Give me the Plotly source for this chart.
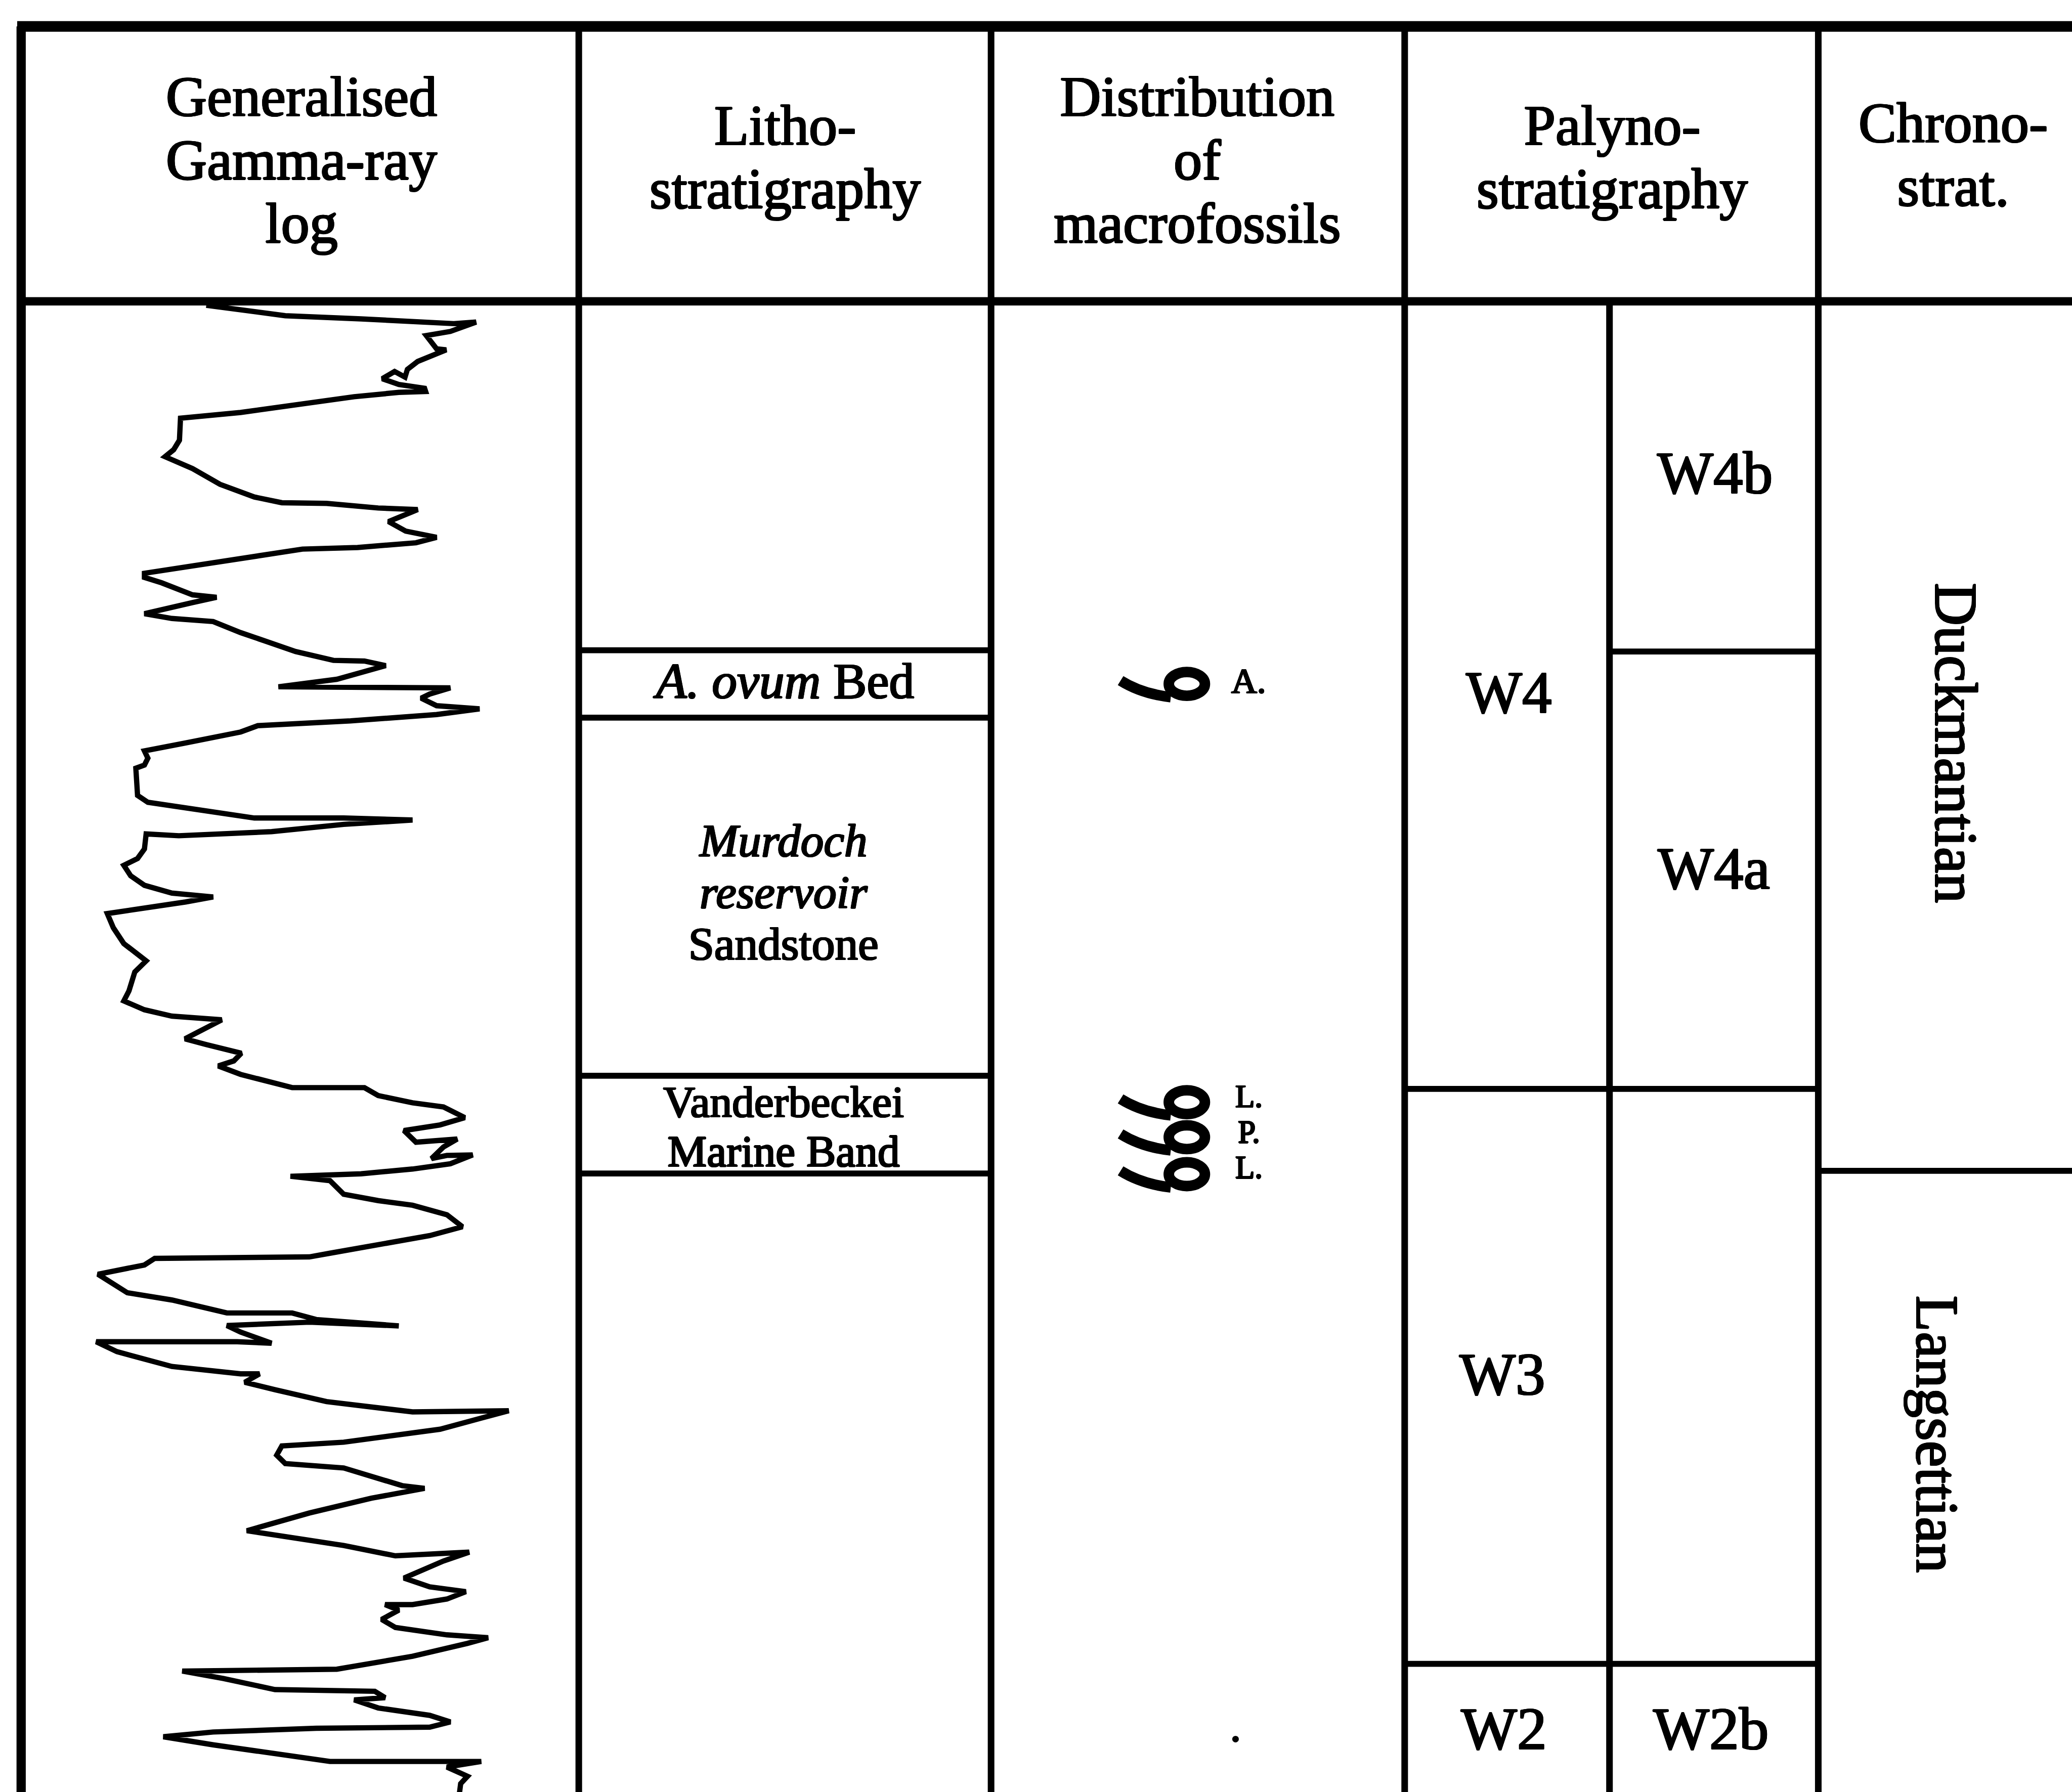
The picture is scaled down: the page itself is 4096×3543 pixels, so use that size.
import plotly.graph_objects as go

# The chart is laid out on a 1568 x 1356 unit grid and scaled to the output size.
W_UNITS, H_UNITS = 1568, 1356
SCALE = 4096 / W_UNITS
SERIF = "Liberation Serif, Times New Roman, serif"
# slight ink spread so the serif strokes read as heavily as printed type
INK = ", ".join(f"{dx}px {dy}px 0 #000" for dx, dy in
                [(1.4, 0), (-1.4, 0), (0, 1.4), (0, -1.4), (1, 1), (-1, -1), (1, -1), (-1, 1)])
LINE_BOX = 1.107  # ascent + descent of the serif face, in em

# ---- Generalised gamma-ray log: reading (horizontal) against depth ----
gr_value = [
    156.1, 215.9, 273.2, 343.4, 360.3, 340.8, 322.6, 330.4, 337.7, 316.1,
    308.3, 306.5, 298.6, 289.3, 301.8, 321.3, 322.1, 301.8, 268.0, 226.3,
    182.1, 136.6, 135.8, 131.4, 124.9, 145.7, 166.5, 192.5, 213.3, 247.1,
    286.2, 316.1, 294.0, 307.0, 330.4, 314.8, 270.6, 228.9, 197.7, 156.1,
    109.3, 109.3, 122.3, 145.7, 163.9, 145.7, 122.3, 109.3, 130.1, 161.3,
    182.1, 223.7, 252.3, 275.8, 291.9, 273.2, 254.9, 210.7, 294.0, 340.8,
    325.2, 318.7, 330.4, 362.9, 330.4, 265.3, 195.1, 182.1, 140.5, 109.3,
    111.9, 109.3, 102.8, 104.1, 111.9, 145.7, 192.5, 260.1, 312.2, 260.1,
    205.5, 135.3, 110.6, 109.3, 104.1, 93.7, 98.9, 109.3, 130.1, 161.3,
    140.5, 81.2, 85.8, 93.7, 110.6, 102.0, 97.6, 93.7, 109.3, 130.1,
    167.8, 154.8, 140.0, 156.1, 182.6, 176.9, 165.2, 182.1, 221.1, 275.8,
    286.2, 312.2, 335.6, 351.7, 333.0, 305.7, 314.8, 346.0, 335.6, 326.5,
    338.2, 357.7, 340.8, 312.2, 273.2, 219.8, 249.7, 260.1, 286.2, 312.2,
    338.2, 349.9, 325.2, 249.7, 234.1, 117.1, 109.3, 74.1, 96.3, 130.1,
    171.7, 221.1, 239.3, 301.8, 234.1, 171.7, 182.1, 205.5, 179.5, 72.8,
    88.5, 130.1, 182.1, 196.4, 185.2, 208.1, 247.1, 312.2, 385.0, 364.2,
    333.0, 260.1, 213.3, 209.4, 215.9, 260.1, 304.4, 321.3, 281.0, 234.1,
    186.8, 223.7, 260.1, 299.2, 355.1, 335.6, 305.7, 325.2, 352.5, 338.2,
    312.2, 291.4, 301.8, 288.8, 299.2, 338.2, 369.4, 353.8, 312.2, 254.9,
    137.9, 169.1, 208.1, 283.6, 291.4, 268.0, 286.2, 325.2, 340.8, 325.2,
    239.3, 161.3, 123.6, 161.3, 249.7, 364.2, 338.2, 353.8, 348.6, 347.3,
]
gr_depth = [
    231.0, 238.9, 241.3, 244.9, 243.7, 250.8, 253.9, 264.0, 264.7, 273.5,
    279.5, 285.4, 281.1, 286.6, 290.9, 293.8, 296.2, 296.9, 300.2, 305.7,
    312.1, 316.4, 333.1, 340.3, 345.6, 354.6, 366.5, 376.1, 380.4, 380.9,
    384.4, 385.6, 394.7, 401.9, 406.6, 410.7, 414.3, 415.5, 420.2, 426.7,
    433.8, 436.9, 441.0, 450.1, 452.0, 456.0, 460.8, 464.4, 468.0, 470.3,
    478.7, 493.0, 499.7, 500.2, 503.7, 508.5, 514.0, 519.7, 520.5, 520.5,
    525.2, 528.3, 534.0, 536.4, 540.7, 545.5, 549.1, 553.9, 562.2, 568.2,
    573.7, 578.9, 581.3, 601.9, 607.1, 611.9, 619.0, 619.0, 620.5, 623.8,
    629.3, 632.4, 631.0, 642.4, 649.6, 654.8, 662.7, 669.9, 675.8, 678.7,
    682.5, 691.3, 702.1, 714.0, 727.1, 735.5, 749.8, 757.4, 764.1, 768.9,
    771.7, 778.4, 786.1, 790.4, 797.0, 802.8, 806.6, 813.0, 823.0, 823.0,
    829.0, 834.5, 837.6, 845.7, 851.2, 855.5, 864.3, 861.9, 867.9, 876.7,
    874.3, 873.9, 880.6, 884.6, 888.2, 890.1, 893.4, 903.7, 908.5, 912.0,
    919.2, 928.3, 935.0, 948.3, 951.1, 952.2, 957.2, 964.2, 978.2, 983.7,
    993.5, 993.5, 998.5, 1003.3, 1000.5, 1003.0, 1008.0, 1016.4, 1015.3, 1015.3,
    1022.8, 1034.0, 1039.6, 1039.6, 1046.0, 1051.6, 1060.6, 1068.4, 1067.5, 1073.1,
    1081.5, 1091.3, 1094.1, 1101.1, 1107.5, 1110.8, 1124.2, 1126.2, 1133.7, 1144.9,
    1158.3, 1163.9, 1169.5, 1177.3, 1174.5, 1181.2, 1194.1, 1200.8, 1204.4, 1210.0,
    1214.2, 1214.2, 1218.4, 1225.4, 1231.5, 1237.1, 1239.3, 1243.5, 1253.3, 1263.1,
    1264.5, 1270.1, 1278.5, 1279.8, 1284.6, 1286.3, 1292.4, 1298.0, 1303.0, 1306.9,
    1307.8, 1310.6, 1314.2, 1320.3, 1332.9, 1332.9, 1337.1, 1344.1, 1349.7, 1360.0,
]

# ---- Column layout ----
col_edges = [16, 438, 750, 1063, 1376]
right_edge = 1568
palyno_split = 1218
top_border = 20
header_bottom = 228

# ---- Unit boundaries (depth) ----
litho_boundaries = [492, 543, 814, 888]
palyno_sub_boundaries = [493]          # W4b / W4a
palyno_zone_boundaries = [824, 1259]   # W4 / W3, W3 / W2
chrono_boundaries = [886]              # Duckmantian / Langsettian

# ---- Macrofossil occurrences ----
fossil_depths = [517, 833.5, 860, 888]
fossil_labels = ["A.", "L.", "P.", "L."]
barren_sample_depth = [1316]

# ---- Column headings: centre x, centre y, lines ----
headers = [
    (228, 120.8, ["Generalised", "Gamma-ray", "log"]),
    (594, 118.9, ["Litho-", "stratigraphy"]),
    (906, 120.8, ["Distribution", "of", "macrofossils"]),
    (1220, 118.9, ["Palyno-", "stratigraphy"]),
    (1478, 116.9, ["Chrono-", "strat."]),
]

# ---- Unit names: centre y, lines, glyph size ----
litho_blocks = [
    (515.4, ["<i>A. ovum</i> Bed"], 38),
    (675.5, ["<i>Murdoch</i>", "<i>reservoir</i>", "Sandstone"], 35),
    (852.6, ["Vanderbeckei", "Marine Band"], 33.5),
]
palyno_zones = [("W4", 1142, 524), ("W3", 1137, 1040), ("W2", 1138, 1308)]
palyno_subzones = [("W4b", 1298, 358), ("W4a", 1297, 657), ("W2b", 1295, 1308)]
chrono_stages = [("Duckmantian", 1480, 562), ("Langsettian", 1466, 1085)]

fig = go.Figure()

# gamma-ray curve
fig.add_trace(go.Scatter(
    x=gr_value, y=gr_depth, mode="lines",
    line=dict(color="black", width=4 * SCALE),
    hoverinfo="skip", showlegend=False,
))

# isolated sample point in the macrofossil column
fig.add_trace(go.Scatter(
    x=[935], y=barren_sample_depth, mode="markers",
    marker=dict(color="black", size=5 * SCALE, line=dict(width=0)),
    hoverinfo="skip", showlegend=False,
))

shapes = []


def seg(x0, y0, x1, y1, w):
    shapes.append(dict(type="line", xref="x", yref="y", x0=x0, y0=y0, x1=x1, y1=y1,
                       line=dict(color="black", width=w * SCALE)))


# frame and column dividers
seg(col_edges[0] - 3, top_border, right_edge, top_border, 8)
seg(col_edges[0], top_border, col_edges[0], H_UNITS, 7)
for x in col_edges[1:]:
    seg(x, top_border, x, H_UNITS, 5)
seg(col_edges[0], header_bottom, right_edge, header_bottom, 6.3)
seg(palyno_split, header_bottom, palyno_split, H_UNITS, 5)

# lithostratigraphic boundaries
for d in litho_boundaries:
    seg(col_edges[1], d, col_edges[2], d, 4.5)
# palynological boundaries
for d in palyno_sub_boundaries:
    seg(palyno_split, d, col_edges[4], d, 4.5)
for d in palyno_zone_boundaries:
    seg(col_edges[3], d, col_edges[4], d, 4.5)
# chronostratigraphic boundary
for d in chrono_boundaries:
    seg(col_edges[4], d, right_edge, d, 4.5)

# macrofossil symbols: a shell outline with a trailing stem
for d in fossil_depths:
    shapes.append(dict(type="circle", xref="x", yref="y",
                       x0=884.5, x1=911.8, y0=d - 8.5, y1=d + 9.5,
                       line=dict(color="black", width=8 * SCALE)))
    shapes.append(dict(type="path", xref="x", yref="y",
                       path=f"M 848 {d - 2} Q 864 {d + 8} 886 {d + 10.5}",
                       line=dict(color="black", width=8 * SCALE)))

annotations = []


def label(x, y, text, size, angle=0):
    annotations.append(dict(
        x=x, y=y, xref="x", yref="y", text=text, showarrow=False,
        xanchor="center", yanchor="middle", textangle=angle,
        font=dict(family=SERIF, size=size * SCALE, color="black", shadow=INK),
    ))


def block(x, y, lines, size, pitch=None):
    # one text block; the base size sets the line pitch, the spans set glyph size
    pitch = pitch or size * LINE_BOX + 0.3
    body = "<br>".join(f"<span style='font-size:{size * SCALE:.1f}px'>{t}</span>"
                       for t in lines)
    annotations.append(dict(
        x=x, y=y, xref="x", yref="y", text=body, showarrow=False,
        xanchor="center", yanchor="middle", align="center",
        font=dict(family=SERIF, size=pitch / 1.3 * SCALE, color="black", shadow=INK),
    ))


for xc, yc, lines in headers:
    block(xc, yc, lines, 43)

for yc, lines, size in litho_blocks:
    block(593, yc, lines, size)

for t, x, y in palyno_zones + palyno_subzones:
    label(x, y, t, 45)

for t, x, y in chrono_stages:
    label(x, y, t, 45, angle=90)

label(945, fossil_depths[0] - 2, fossil_labels[0], 27)
block(945, 856.5, fossil_labels[1:], 24)

fig.update_layout(
    width=4096, height=3543,
    margin=dict(l=0, r=0, t=0, b=0),
    paper_bgcolor="white", plot_bgcolor="white",
    xaxis=dict(range=[0, W_UNITS], visible=False, fixedrange=True),
    yaxis=dict(range=[H_UNITS, 0], visible=False, fixedrange=True),
    shapes=shapes, annotations=annotations,
    showlegend=False,
)

fig.write_html("out.html")
